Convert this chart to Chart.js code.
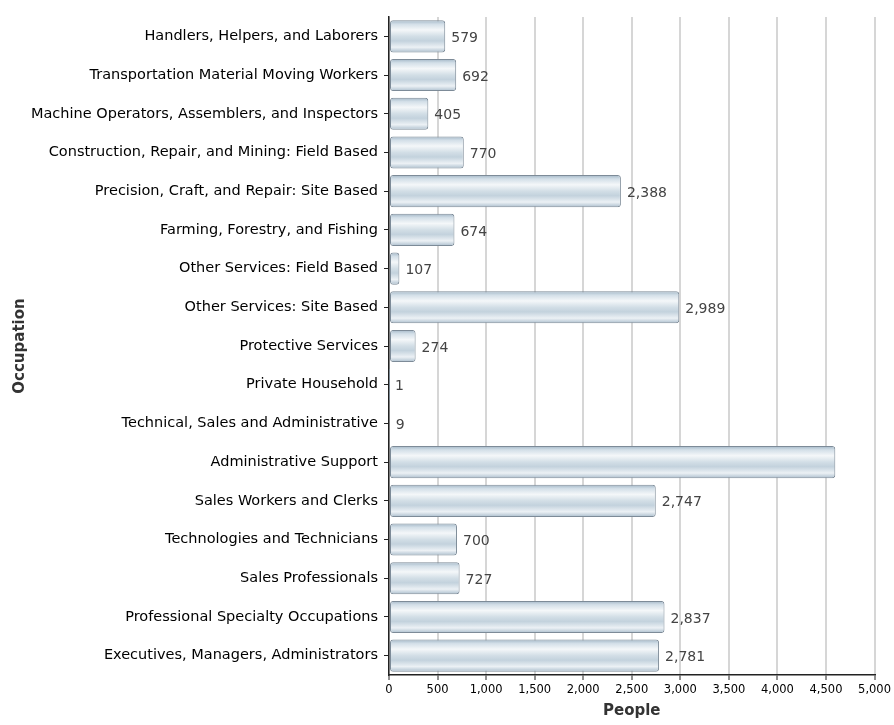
<!DOCTYPE html>
<html><head><meta charset="utf-8">
<script src="https://cdn.jsdelivr.net/npm/chart.js@4/dist/chart.umd.min.js"></script>
<style>html,body{margin:0;padding:0;background:#fff;}#wrap{width:894px;height:725px;}</style>
</head><body><div id="wrap"><canvas id="c" width="894" height="725"></canvas></div>
<script>
const categories = [
  "Handlers, Helpers, and Laborers",
  "Transportation Material Moving Workers",
  "Machine Operators, Assemblers, and Inspectors",
  "Construction, Repair, and Mining: Field Based",
  "Precision, Craft, and Repair: Site Based",
  "Farming, Forestry, and Fishing",
  "Other Services: Field Based",
  "Other Services: Site Based",
  "Protective Services",
  "Private Household",
  "Technical, Sales and Administrative",
  "Administrative Support",
  "Sales Workers and Clerks",
  "Technologies and Technicians",
  "Sales Professionals",
  "Professional Specialty Occupations",
  "Executives, Managers, Administrators"
];
const people = [579, 692, 405, 770, 2388, 674, 107, 2989, 274, 1, 9, 4596, 2747, 700, 727, 2837, 2781];
const showValueLabel = [true,true,true,true,true,true,true,true,true,true,true,false,true,true,true,true,true];
const xTicks = [0, 500, 1000, 1500, 2000, 2500, 3000, 3500, 4000, 4500, 5000];

const BAR_PCT = 0.83;
function barFill(ctx) {
  const chart = ctx.chart;
  const y = chart.scales && chart.scales.y;
  if (!y || !chart.chartArea || ctx.dataIndex === undefined) return '#d0dce5';
  const c = y.getPixelForValue(ctx.dataIndex);
  const step = (y.bottom - y.top) / categories.length;
  const h = step * BAR_PCT / 2;
  const g = chart.ctx.createLinearGradient(0, c - h, 0, c + h);
  g.addColorStop(0, '#a3b7c7');
  g.addColorStop(0.12, '#d3dfe8');
  g.addColorStop(0.3, '#f4f7f9');
  g.addColorStop(0.5, '#d2dee6');
  g.addColorStop(0.64, '#c3d2dd');
  g.addColorStop(0.84, '#ecf1f5');
  g.addColorStop(1, '#abbecd');
  return g;
}

const valueLabels = {
  id: 'valueLabels',
  afterDatasetsDraw(chart) {
    const meta = chart.getDatasetMeta(0);
    const ctx = chart.ctx;
    ctx.save();
    ctx.font = '14px "DejaVu Sans", sans-serif';
    ctx.fillStyle = '#444';
    ctx.textBaseline = 'middle';
    ctx.textAlign = 'left';
    meta.data.forEach((el, i) => {
      if (!showValueLabel[i]) return;
      ctx.fillText(people[i].toLocaleString('en-US'), el.x + 6, el.y + 2);
    });
    ctx.restore();
  }
};

new Chart(document.getElementById('c'), {
  type: 'bar',
  data: {
    labels: categories,
    datasets: [{
      data: people,
      backgroundColor: barFill,
      borderColor: '#7d8b98',
      borderWidth: 1,
      borderRadius: 3,
      borderSkipped: false,
      categoryPercentage: 1,
      barPercentage: BAR_PCT
    }]
  },
  options: {
    indexAxis: 'y',
    responsive: false,
    animation: false,
    devicePixelRatio: 1,
    layout: { padding: { top: 17, right: 18, bottom: 0, left: 0 } },
    plugins: { legend: { display: false }, tooltip: { enabled: false } },
    scales: {
      x: {
        type: 'linear',
        min: 0, max: 5000,
        afterBuildTicks: s => { s.ticks = xTicks.map(v => ({ value: v })); },
        afterFit: s => { s.height = 50; },
        grid: { color: '#d6d6d6', lineWidth: 2, drawTicks: true, tickLength: 5, tickColor: '#222', tickWidth: 1 },
        border: { color: '#222', width: 1.5 },
        ticks: {
          color: '#000', padding: 3, maxRotation: 0, autoSkip: false,
          font: { family: '"DejaVu Sans", sans-serif', size: 11.5 },
          callback: v => Number(v).toLocaleString('en-US')
        },
        title: { display: true, text: 'People', color: '#333', padding: { top: 0, bottom: 5 },
          font: { family: '"DejaVu Sans", sans-serif', size: 15, weight: 'bold' } }
      },
      y: {
        afterFit: s => { s.width = 389; },
        grid: { offset: false, drawOnChartArea: false, drawTicks: true, tickLength: 5, tickColor: '#222', tickWidth: 1 },
        border: { color: '#222', width: 1.5 },
        ticks: { color: '#000', padding: 6, autoSkip: false,
          font: { family: '"DejaVu Sans", sans-serif', size: 14.5 } },
        title: { display: true, text: 'Occupation', color: '#333', padding: { top: 11, bottom: 4 },
          font: { family: '"DejaVu Sans", sans-serif', size: 15, weight: 'bold' } }
      }
    }
  },
  plugins: [valueLabels]
});
</script></body></html>
